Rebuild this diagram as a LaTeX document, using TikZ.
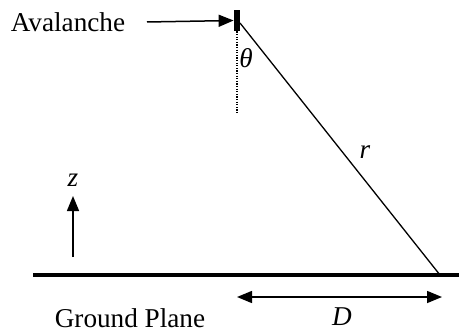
\documentclass[tikz,border=0pt]{standalone}
\usepackage{fontspec}
\setmainfont{Liberation Serif}
\usetikzlibrary{arrows.meta}

\begin{document}
\begin{tikzpicture}[
    x=0.5pt, y=-0.5pt,
    >={Triangle[length=7.5pt,width=6pt]},
    font=\fontsize{13.6pt}{15pt}\selectfont,
    arr/.style={->, line width=0.75pt},
    ray/.style={line width=0.65pt},
    plumb/.style={dash pattern=on 0.6pt off 0.7pt, line width=0.6pt},
    ground/.style={line width=2.3pt},
    source/.style={fill=black, minimum width=3pt, minimum height=10.5pt, inner sep=0pt},
    lbl/.style={inner sep=0pt},
  ]
\useasboundingbox (0,0) rectangle (459,331);

% Source and its label
\node[source] (src) at (237,20.5) {};
\node[lbl] (aval) at (68,22) {Avalanche};
\coordinate (tail) at (147,22);
\draw[arr] (tail) -- (src.west);

% Vertical reference and the ray to the ground
\coordinate (foot) at (237,113);
\coordinate (emit) at (240,23);
\coordinate (hit) at (440,275);
\draw[plumb] (src.south) -- (foot);
\draw[ray] (emit) -- (hit);
\node[lbl] (theta) at (246,58) {\textit{θ}};
\node[lbl] (rlab) at (365,152) {\textit{r}};

% Ground plane
\coordinate (gl) at (33,275);
\coordinate (gr) at (459,275);
\draw[ground] (gl) -- (gr);
\node[lbl] (gplane) at (130,318) {Ground Plane};

% z axis
\coordinate (zbase) at (73,257);
\coordinate (ztip) at (73,196);
\draw[arr] (zbase) -- (ztip);
\node[lbl] (zlab) at (73,180) {\textit{z}};

% Distance D
\coordinate (dl) at (237,297);
\coordinate (dr) at (442,297);
\draw[arr, <->] (dl) -- (dr);
\node[lbl] (dlab) at (342,317) {\textit{D}};

\end{tikzpicture}
\end{document}
